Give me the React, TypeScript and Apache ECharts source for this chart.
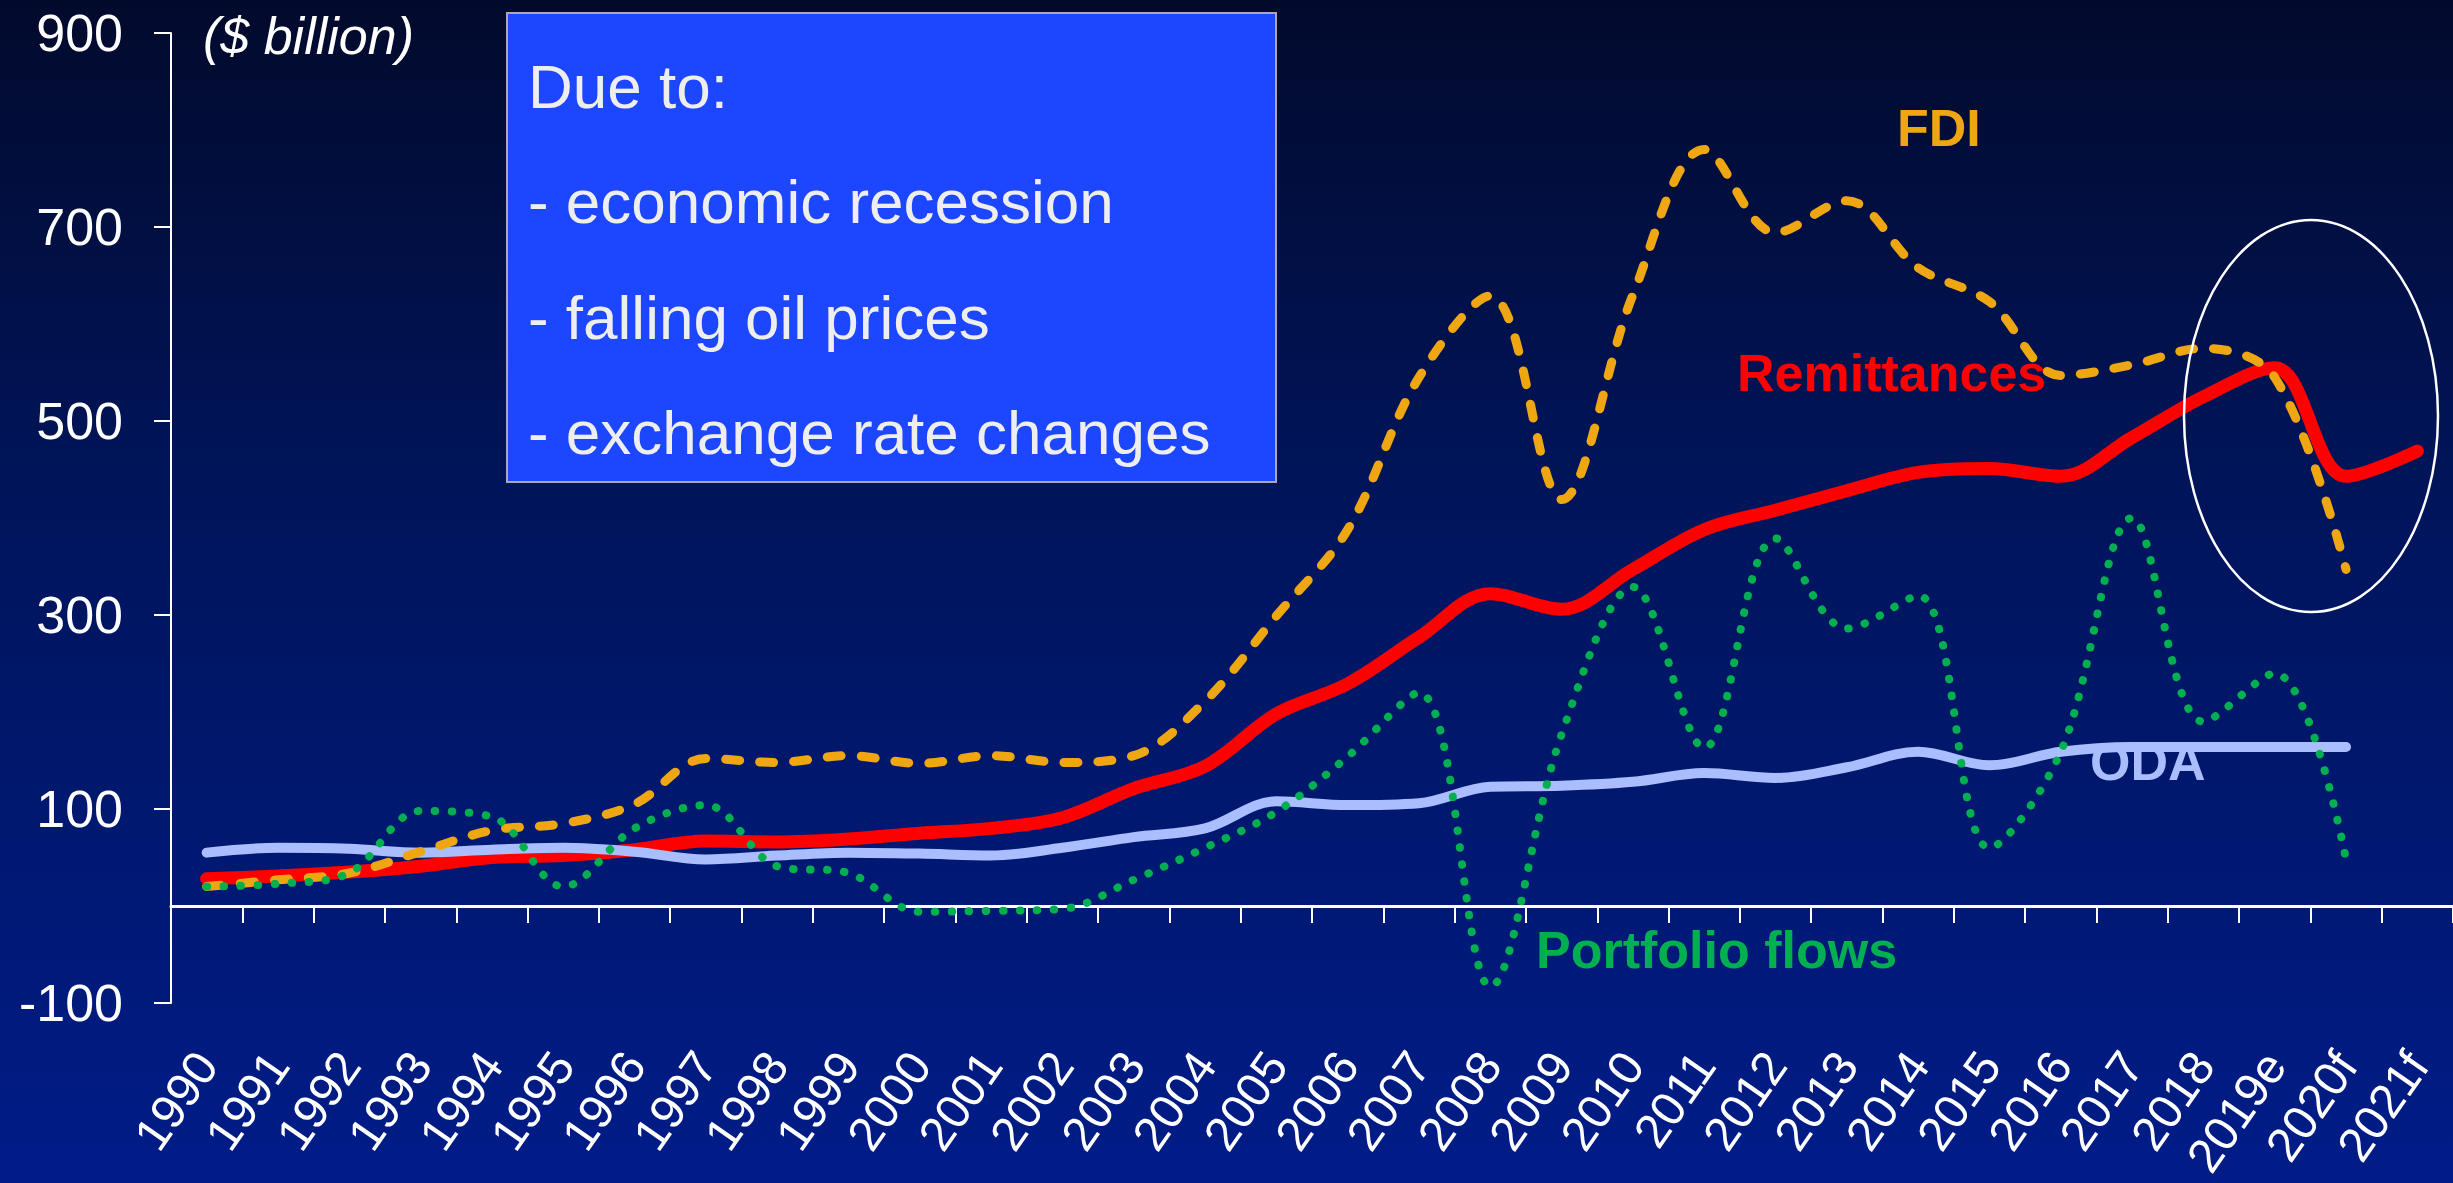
import React, { useEffect, useRef } from "react";
import * as echarts from "echarts";

const categories = [
  "1990", "1991", "1992", "1993", "1994", "1995", "1996", "1997", "1998", "1999",
  "2000", "2001", "2002", "2003", "2004", "2005", "2006", "2007", "2008", "2009",
  "2010", "2011", "2012", "2013", "2014", "2015", "2016", "2017", "2018", "2019e",
  "2020f", "2021f",
];

const remittances = [
  28, 31, 35, 41, 50, 52, 58, 67, 66, 69,
  75, 80, 91, 121, 144, 198, 229, 277, 322, 306,
  347, 388, 408, 428, 447, 451, 443, 483, 525, 555,
  443, 469,
];

const fdi = [
  20, 27, 34, 56, 78, 85, 105, 152, 148, 155,
  147, 155, 148, 155, 211, 299, 388, 545, 629, 419,
  630, 780, 694, 727, 658, 623, 547, 558, 575, 545,
  347, null,
];

const portfolio = [
  20, 23, 34, 98, 92, 20, 80, 104, 41, 34,
  -6, -5, -3, 27, 60, 97, 154, 220, -83, 177,
  329, 163, 379, 286, 320, 60, 159, 400, 190, 240,
  48, null,
];

const oda = [
  55, 60, 59, 55, 58, 60, 56, 48, 52, 55,
  54, 52, 60, 71, 80, 108, 104, 106, 123, 124,
  128, 137, 132, 143, 159, 145, 159, 164, 164, 164,
  164, null,
];

const yTicks = { min: -100, max: 900, interval: 200 };

const boxLines = [
  "Due to:",
  "- economic recession",
  "- falling oil prices",
  "- exchange rate changes",
];

const FONT = "'Liberation Sans', Arial, Helvetica, sans-serif";

export default function App() {
  const ref = useRef<HTMLDivElement>(null);

  useEffect(() => {
    if (!ref.current) return;
    const chart = echarts.init(ref.current, undefined, { renderer: "svg" });

    const option: any = {
      animation: false,
      backgroundColor: {
        type: "linear",
        x: 0,
        y: 0,
        x2: 0,
        y2: 1,
        colorStops: [
          { offset: 0, color: "#020a2c" },
          { offset: 0.4, color: "#001459" },
          { offset: 1, color: "#001c88" },
        ],
      },
      textStyle: { fontFamily: FONT },
      grid: {
        left: 171,
        right: 0,
        top: 33,
        bottom: 180,
        containLabel: false,
        outerBoundsMode: "none",
      },
      xAxis: {
        type: "category",
        data: categories,
        boundaryGap: true,
        axisLine: { show: true, onZero: true, lineStyle: { color: "#ffffff", width: 3 } },
        axisTick: { show: true, inside: false, length: 17, lineStyle: { color: "#ffffff", width: 2 } },
        axisLabel: {
          show: true,
          interval: 0,
          rotate: 55,
          margin: 54,
          color: "#ffffff",
          fontSize: 48,
          fontFamily: FONT,
          hideOverlap: false,
        },
        splitLine: { show: false },
      },
      yAxis: {
        type: "value",
        min: yTicks.min,
        max: yTicks.max,
        interval: yTicks.interval,
        axisLine: { show: true, lineStyle: { color: "#ffffff", width: 2 } },
        axisTick: { show: true, length: 17, lineStyle: { color: "#ffffff", width: 2 } },
        axisLabel: { color: "#ffffff", fontSize: 52, margin: 48, fontFamily: FONT },
        splitLine: { show: false },
      },
      series: [
        {
          name: "Remittances",
          type: "line",
          data: remittances,
          smooth: 0.35,
          showSymbol: false,
          lineStyle: { color: "#ff0000", width: 13, cap: "round", join: "round" },
          z: 2,
        },
        {
          name: "ODA",
          type: "line",
          data: oda,
          smooth: 0.35,
          showSymbol: false,
          lineStyle: { color: "#aabdff", width: 10, cap: "round", join: "round" },
          z: 3,
        },
        {
          name: "FDI",
          type: "line",
          data: fdi,
          smooth: 0.35,
          showSymbol: false,
          lineStyle: { color: "#eea712", width: 9, type: [14, 20], cap: "round", join: "round" },
          z: 4,
        },
        {
          name: "Portfolio flows",
          type: "line",
          data: portfolio,
          smooth: 0.35,
          showSymbol: false,
          lineStyle: { color: "#00b050", width: 8, type: [0.5, 16.5], cap: "round", join: "round" },
          z: 5,
        },
      ],
      graphic: [
        {
          type: "rect",
          shape: { x: 507, y: 13, width: 769, height: 469 },
          style: { fill: "#1c46ff", stroke: "#a8a8b8", lineWidth: 2 },
          z: 10,
        },
        ...boxLines.map((t, i) => ({
          type: "text",
          x: 528,
          y: 86 + i * 115.5,
          style: {
            text: t,
            fill: "#eeeeee",
            font: `62px ${FONT}`,
            textAlign: "left",
            textVerticalAlign: "middle",
          },
          z: 11,
        })),
        {
          type: "text",
          x: 203,
          y: 36,
          style: {
            text: "($ billion)",
            fill: "#ffffff",
            font: `italic 52px ${FONT}`,
            textAlign: "left",
            textVerticalAlign: "middle",
          },
          z: 11,
        },
        {
          type: "text",
          x: 1897,
          y: 128,
          style: { text: "FDI", fill: "#eea712", font: `bold 52px ${FONT}`, textVerticalAlign: "middle" },
          z: 11,
        },
        {
          type: "text",
          x: 1737,
          y: 373,
          style: { text: "Remittances", fill: "#ff0000", font: `bold 52px ${FONT}`, textVerticalAlign: "middle" },
          z: 11,
        },
        {
          type: "text",
          x: 2090,
          y: 762,
          style: { text: "ODA", fill: "#aabdff", font: `bold 52px ${FONT}`, textVerticalAlign: "middle" },
          z: 11,
        },
        {
          type: "text",
          x: 1536,
          y: 950,
          style: { text: "Portfolio flows", fill: "#00b050", font: `bold 52px ${FONT}`, textVerticalAlign: "middle" },
          z: 11,
        },
        {
          type: "ellipse",
          shape: { cx: 2311, cy: 416, rx: 127, ry: 196 },
          style: { fill: "none", stroke: "#ffffff", lineWidth: 2.5 },
          z: 11,
        },
      ],
    };

    chart.setOption(option);
    return () => chart.dispose();
  }, []);

  return (
    <div
      ref={ref}
      style={{ position: "fixed", left: 0, top: 0, width: "2453px", height: "1183px" }}
    />
  );
}
